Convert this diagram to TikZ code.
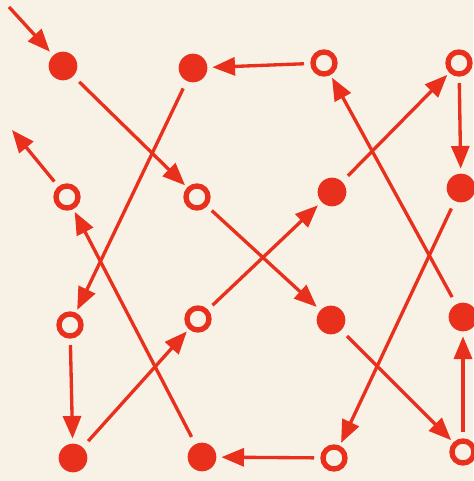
\documentclass[tikz,border=0pt]{standalone}
\usetikzlibrary{arrows.meta}
\definecolor{inkred}{RGB}{232,48,28}
\definecolor{paper}{RGB}{248,242,230}

\begin{document}
\begin{tikzpicture}[
        >={Triangle[length=0.68cm, width=0.54cm]},
        dot/.style={
            circle, fill=inkred, draw=none,
            minimum size=0.86cm, inner sep=0pt, outer sep=0.15cm
        },
        ring/.style={
            circle, draw=inkred, line width=0.16cm,
            minimum size=0.66cm, inner sep=0pt, outer sep=0.17cm
        },
        link/.style={->, draw=inkred, line width=0.1cm, shorten <=0.1cm}
    ]
        % Paper
        \fill[paper] (0,0) rectangle (14.19,-14.43);
        \useasboundingbox (0,0) rectangle (14.19,-14.43);

        % Row 1
        \node[dot] (A1) at (1.89,-1.98) {};
        \node[dot] (A2) at (5.79,-2.04) {};
        \node[ring] (A3) at (9.72,-1.89) {};
        \node[ring] (A4) at (13.77,-1.89) {};

        % Row 2
        \node[ring] (B1) at (2.01,-5.91) {};
        \node[ring] (B2) at (5.91,-5.91) {};
        \node[dot] (B3) at (9.96,-5.76) {};
        \node[dot] (B4) at (13.83,-5.64) {};

        % Row 3
        \node[ring] (C1) at (2.10,-9.75) {};
        \node[ring] (C2) at (5.94,-9.57) {};
        \node[dot] (C3) at (9.93,-9.60) {};
        \node[dot] (C4) at (13.89,-9.51) {};

        % Row 4
        \node[dot] (D1) at (2.19,-13.74) {};
        \node[dot] (D2) at (6.06,-13.71) {};
        \node[ring] (D3) at (10.02,-13.74) {};
        \node[ring] (D4) at (13.89,-13.56) {};

        % Loose ends
        \coordinate (in) at (0.27,-0.21);
        \coordinate (out) at (0.36,-3.90);

        % Arrows
        \draw[link, shorten <=0pt] (in) -- (A1);
        \draw[link] (B1) -- (out);
        \draw[link] (A1) -- (B2);
        \draw[link] (A2) -- (C1);
        \draw[link] (A3) -- (A2);
        \draw[link] (A4) -- (B4);
        \draw[link] (B2) -- (C3);
        \draw[link] (B3) -- (A4);
        \draw[link] (C4) -- (A3);
        \draw[link] (B4) -- (D3);
        \draw[link] (C1) -- (D1);
        \draw[link] (D1) -- (C2);
        \draw[link] (C2) -- (B3);
        \draw[link] (D2) -- (B1);
        \draw[link] (C3) -- (D4);
        \draw[link] (D3) -- (D2);
        \draw[link] (D4) -- (C4);
    \end{tikzpicture}
\end{document}
